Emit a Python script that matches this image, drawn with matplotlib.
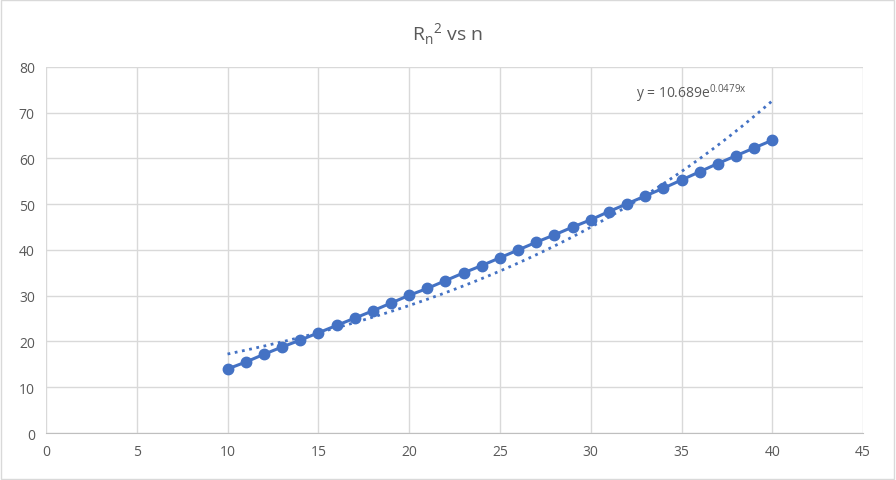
import numpy as np
import matplotlib.pyplot as plt

n = list(range(10, 41))
rn2 = [14.0, 15.5, 17.2, 18.8, 20.3, 21.9, 23.5, 25.1, 26.7, 28.4, 30.1,
       31.6, 33.3, 35.0, 36.6, 38.3, 40.0, 41.7, 43.3, 45.0, 46.6,
       48.4, 50.1, 51.8, 53.5, 55.3, 57.1, 58.9, 60.6, 62.3, 64.0]

# exponential trendline as printed on the chart
trend_a = 10.689
trend_b = 0.0479

plt.rcParams['font.family'] = ['Open Sans', 'DejaVu Sans']
txt = '#595959'
blue = '#4472C4'

fig = plt.figure(figsize=(8.96, 4.81), dpi=100)
ax = fig.add_axes([0.0513, 0.0977, 0.912, 0.761])

ax.plot(n, rn2, '-o', color=blue, lw=2.2, ms=7.5, zorder=3)

xt = np.linspace(min(n), max(n), 200)
ax.plot(xt, trend_a * np.exp(trend_b * xt), ':', color=blue, lw=2, zorder=2)
ax.text(32.5, 72.0, f'y = {trend_a}e$^{{\\mathregular{{{trend_b}x}}}}$', color=txt,
        fontsize=10, ha='left', va='bottom')

ax.set_xlim(0, 45)
ax.set_ylim(0, 80)
ax.set_xticks(range(0, 46, 5))
ax.set_yticks(range(0, 81, 10))
ax.grid(True, color='#D9D9D9', lw=1)
ax.set_axisbelow(True)
for s in ['top', 'right', 'left']:
    ax.spines[s].set_visible(False)
ax.spines['bottom'].set_color('#BFBFBF')
ax.tick_params(length=0, colors=txt, labelsize=10, pad=8)

fig.text(0.5, 0.93, 'R$_\\mathregular{n}$$^\\mathregular{2}$ vs n', ha='center', va='center',
         fontsize=14, color=txt)

fig.patches.append(plt.Rectangle((0.001, 0.002), 0.997, 0.995, transform=fig.transFigure,
                                 fill=False, edgecolor='#D9D9D9', lw=1))

plt.savefig('out.png', dpi=100)
